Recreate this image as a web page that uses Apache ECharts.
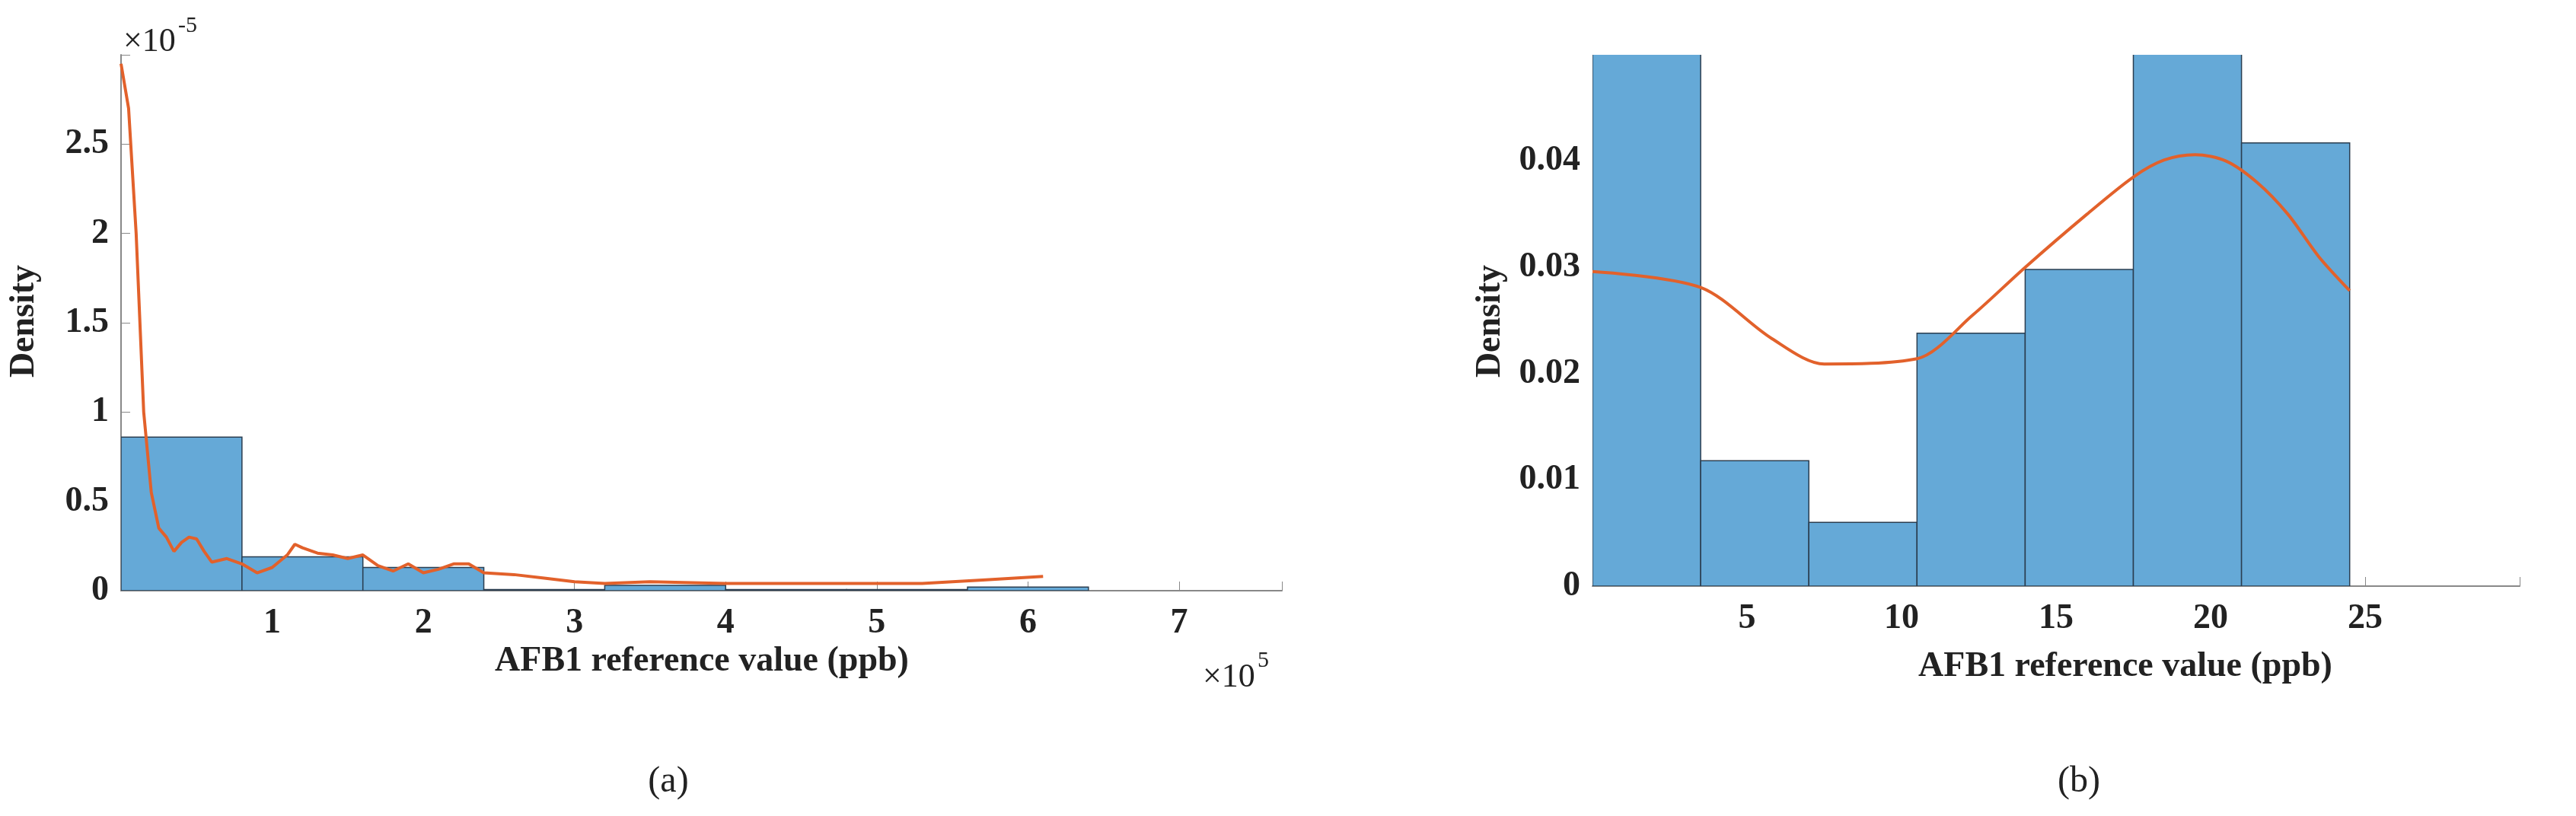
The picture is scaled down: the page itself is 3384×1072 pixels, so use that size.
<!DOCTYPE html>
<html>
<head>
<meta charset="utf-8">
<script src="https://cdn.jsdelivr.net/npm/echarts@6/dist/echarts.min.js"></script>
<style>html,body{margin:0;background:#fff}#c{width:3384px;height:1072px}</style>
</head>
<body>
<div id="c"></div>
<script>
// (a) x in units of 1e5 ppb, y in units of 1e-5
const edgesA = [0, 0.8, 1.6, 2.4, 3.2, 4.0, 4.8, 5.6, 6.4];
const heightsA = [0.86, 0.19, 0.13, 0.006, 0.03, 0.006, 0.006, 0.02];
const curveA = [[0,2.95],[0.05,2.7],[0.1,2.0],[0.15,1.0],[0.2,0.55],[0.25,0.35],[0.3,0.3],[0.35,0.22],[0.4,0.27],[0.45,0.3],[0.5,0.29],[0.55,0.22],[0.6,0.16],[0.7,0.18],[0.8,0.15],[0.9,0.1],[1.0,0.13],[1.1,0.2],[1.15,0.26],[1.2,0.24],[1.3,0.21],[1.4,0.2],[1.5,0.18],[1.6,0.2],[1.7,0.14],[1.8,0.11],[1.9,0.15],[2.0,0.1],[2.1,0.12],[2.2,0.15],[2.3,0.15],[2.4,0.1],[2.6,0.09],[2.8,0.07],[3.0,0.05],[3.2,0.04],[3.5,0.05],[4.0,0.04],[4.5,0.04],[5.0,0.04],[5.3,0.04],[5.7,0.06],[6.1,0.08]];
const ticksA = ['1','2','3','4','5','6','7'];
// (b)
const edgesB = [0, 3.5, 7, 10.5, 14, 17.5, 21, 24.5];
const heightsB = [0.065, 0.0118, 0.006, 0.0238, 0.0298, 0.065, 0.0417];
const curveB = [[0,0.0296],[3.5,0.0281],[5.8,0.0233],[7.5,0.0209],[10.5,0.0214],[12.3,0.0255],[14,0.030],[16,0.035],[17.5,0.0385],[18.5,0.0401],[19.5,0.0406],[20.5,0.0400],[21.5,0.038],[22.5,0.035],[23.5,0.031],[24.5,0.0278]];

const font = 'Liberation Serif';
const lab = {fontFamily: font, fontWeight: 'bold', fontSize: 46, color: '#222'};

function bars(edges, heights, idx) {
  return {
    type: 'custom', xAxisIndex: idx, yAxisIndex: idx, clip: true,
    data: heights.map((h, i) => [edges[i], edges[i + 1], h]),
    renderItem: (params, api) => {
      const p0 = api.coord([api.value(0), 0]);
      const p1 = api.coord([api.value(1), api.value(2)]);
      return {type: 'rect', shape: {x: p0[0], y: p1[1], width: p1[0] - p0[0], height: p0[1] - p1[1]},
        style: {fill: '#65a9d7', stroke: '#2b3e50', lineWidth: 1.5}};
    }
  };
}
function curve(data, idx, smooth) {
  return {type: 'line', xAxisIndex: idx, yAxisIndex: idx, data, smooth, symbol: 'none',
    lineStyle: {color: '#e2612b', width: 4}, z: 5};
}
const axisLine = {show: true, lineStyle: {color: '#888', width: 2}};

const chart = echarts.init(document.getElementById('c'));
chart.setOption({
  animation: false,
  grid: [
    {left: 159, top: 72, width: 1525, height: 704},
    {left: 2092, top: 72, width: 1218, height: 698}
  ],
  xAxis: [
    {gridIndex: 0, type: 'value', min: 0, max: 7.68, interval: 1, axisLine, splitLine: {show: false},
      axisTick: {inside: true, length: 12, lineStyle: {color: '#888'}},
      axisLabel: {...lab, margin: 20, formatter: v => (v > 0 && v <= 7) ? ticksA[v - 1] : ''}},
    {gridIndex: 1, type: 'value', min: 0, max: 30, interval: 5, axisLine, splitLine: {show: false},
      axisTick: {inside: true, length: 12, lineStyle: {color: '#888'}},
      axisLabel: {...lab, margin: 20, formatter: v => (v > 0 && v <= 25) ? String(v) : ''}}
  ],
  yAxis: [
    {gridIndex: 0, type: 'value', min: 0, max: 3, interval: 0.5, axisLine, splitLine: {show: false},
      axisTick: {inside: true, length: 12, lineStyle: {color: '#888'}},
      axisLabel: {...lab, margin: 16, formatter: v => v >= 3 ? '' : String(v)}},
    {gridIndex: 1, type: 'value', min: 0, max: 0.05, interval: 0.01, axisLine: {show: false}, splitLine: {show: false},
      axisTick: {show: false},
      axisLabel: {...lab, margin: 16, formatter: v => v >= 0.05 ? '' : (v === 0 ? '0' : v.toFixed(2))}}
  ],
  graphic: [
    {type: 'text', x: 32, y: 422, rotation: Math.PI / 2, style: {text: 'Density', ...lab, fill: '#222', align: 'center', verticalAlign: 'middle'}},
    {type: 'text', x: 1958, y: 422, rotation: Math.PI / 2, style: {text: 'Density', ...lab, fill: '#222', align: 'center', verticalAlign: 'middle'}},
    {type: 'text', x: 922, y: 869, style: {text: 'AFB1 reference value (ppb)', ...lab, fill: '#222', align: 'center', verticalAlign: 'middle'}},
    {type: 'text', x: 2792, y: 876, style: {text: 'AFB1 reference value (ppb)', ...lab, fill: '#222', align: 'center', verticalAlign: 'middle'}},
    {type: 'text', x: 1580, y: 890, style: {text: '×10', font: '44px "Liberation Serif"', fill: '#222', verticalAlign: 'middle'}},
    {type: 'text', x: 1652, y: 868, style: {text: '5', font: '30px "Liberation Serif"', fill: '#222', verticalAlign: 'middle'}},
    {type: 'text', x: 162, y: 55, style: {text: '×10', font: '44px "Liberation Serif"', fill: '#222', verticalAlign: 'middle'}},
    {type: 'text', x: 234, y: 34, style: {text: '-5', font: '30px "Liberation Serif"', fill: '#222', verticalAlign: 'middle'}},
    {type: 'text', x: 878, y: 1027, style: {text: '(a)', font: '48px "Liberation Serif"', fill: '#222', align: 'center', verticalAlign: 'middle'}},
    {type: 'text', x: 2731, y: 1027, style: {text: '(b)', font: '48px "Liberation Serif"', fill: '#222', align: 'center', verticalAlign: 'middle'}}
  ],
  series: [bars(edgesA, heightsA, 0), curve(curveA, 0, false), bars(edgesB, heightsB, 1), curve(curveB, 1, 0.3)]
});
</script>
</body>
</html>
